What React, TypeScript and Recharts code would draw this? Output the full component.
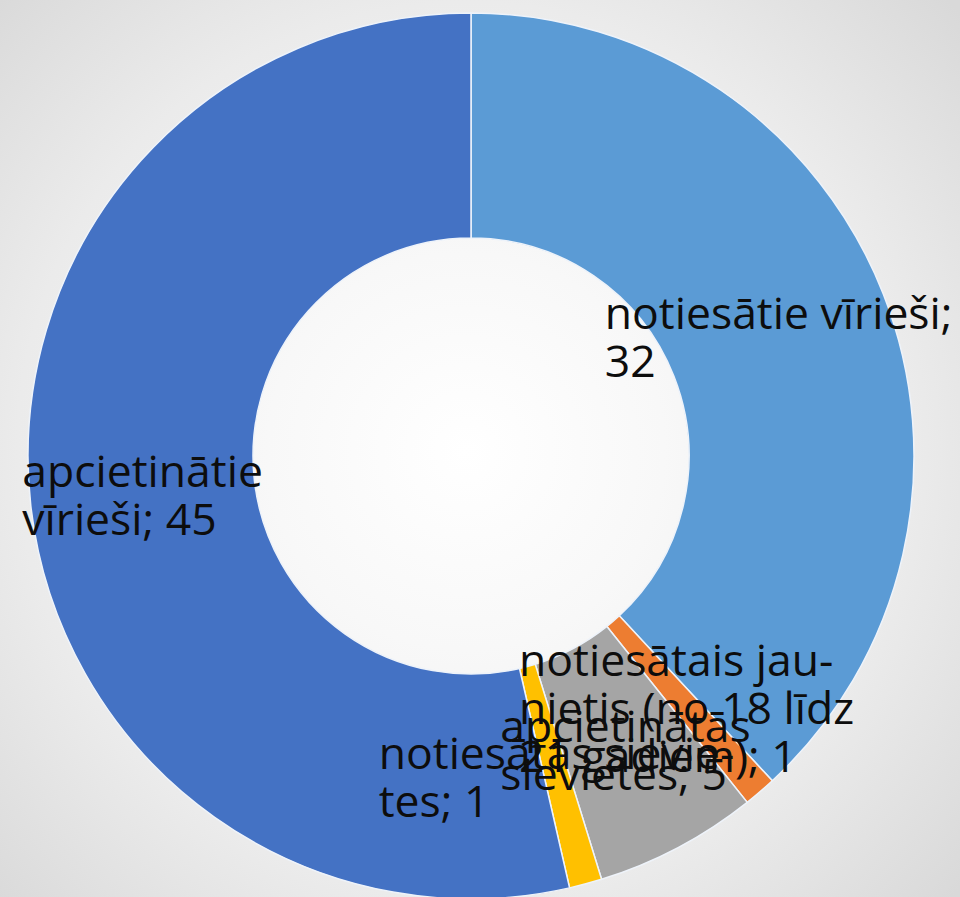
import React from "react";
import { PieChart, Pie, Cell } from "recharts";

const categories = [
  "notiesātie vīrieši",
  "notiesātais jaunietis (no 18 līdz 21 gadiem)",
  "apcietinātās sievietes",
  "notiesātās sievietes",
  "apcietinātie vīrieši",
];
const values = [32, 1, 5, 1, 45];
const labelLines = [
  ["notiesātie vīrieši;", "32"],
  ["notiesātais jau-", "nietis (no 18 līdz", "21 gadiem); 1"],
  ["apcietinātās", "sievietes; 5"],
  ["notiesātās sievie-", "tes; 1"],
  ["apcietinātie", "vīrieši; 45"],
];
const colors = ["#5B9BD5", "#ED7D31", "#A5A5A5", "#FFC000", "#4472C4"];

const data = categories.map((name, i) => ({ name, value: values[i], lines: labelLines[i] }));

const FONT_FAMILY = "Open Sans";
const FONT_SIZE = 44.5;
const LINE_HEIGHT = 48;

let ctx: CanvasRenderingContext2D | null = null;
function measure(s: string): number {
  if (!ctx) {
    const c = document.createElement("canvas");
    ctx = c.getContext("2d");
  }
  if (!ctx) return s.length * FONT_SIZE * 0.5;
  ctx.font = `${FONT_SIZE}px "${FONT_FAMILY}"`;
  return ctx.measureText(s).width;
}

const RAD = Math.PI / 180;
const renderLabel = (props: any) => {
  const { cx, cy, midAngle, innerRadius, outerRadius, index } = props;
  const r = (innerRadius + outerRadius) / 2;
  const x = cx + r * Math.cos(-midAngle * RAD);
  const y = cy + r * Math.sin(-midAngle * RAD);
  const lines = labelLines[index];
  const w = Math.max(...lines.map(measure));
  const left = x - w / 2;
  const top = y - (lines.length * LINE_HEIGHT) / 2;
  return (
    <text
      key={`lbl-${index}`}
      x={left}
      y={top}
      fill="#0D0D0D"
      fontFamily={FONT_FAMILY}
      fontSize={FONT_SIZE}
      textAnchor="start"
    >
      {lines.map((ln, i) => (
        <tspan key={i} x={left} y={top + LINE_HEIGHT * i + LINE_HEIGHT / 2} dominantBaseline="central">
          {ln}
        </tspan>
      ))}
    </text>
  );
};

export default function App() {
  return (
    <div
      style={{
        position: "absolute",
        left: 0,
        top: 0,
        width: 960,
        height: 897,
        overflow: "hidden",
        background:
          "radial-gradient(circle 660px at 466px 451px, #ffffff 0%, #f8f8f8 30%, #ebebeb 68%, #d9d9d9 100%)",
      }}
    >
      <PieChart width={960} height={897}>
        <Pie
          data={data}
          dataKey="value"
          nameKey="name"
          cx={466}
          cy={451}
          innerRadius={218}
          outerRadius={443}
          startAngle={90}
          endAngle={-270}
          stroke="#eef3fa"
          strokeWidth={1.5}
          label={renderLabel}
          labelLine={false}
          isAnimationActive={false}
        >
          {data.map((d, i) => (
            <Cell key={d.name} fill={colors[i]} />
          ))}
        </Pie>
      </PieChart>
    </div>
  );
}
